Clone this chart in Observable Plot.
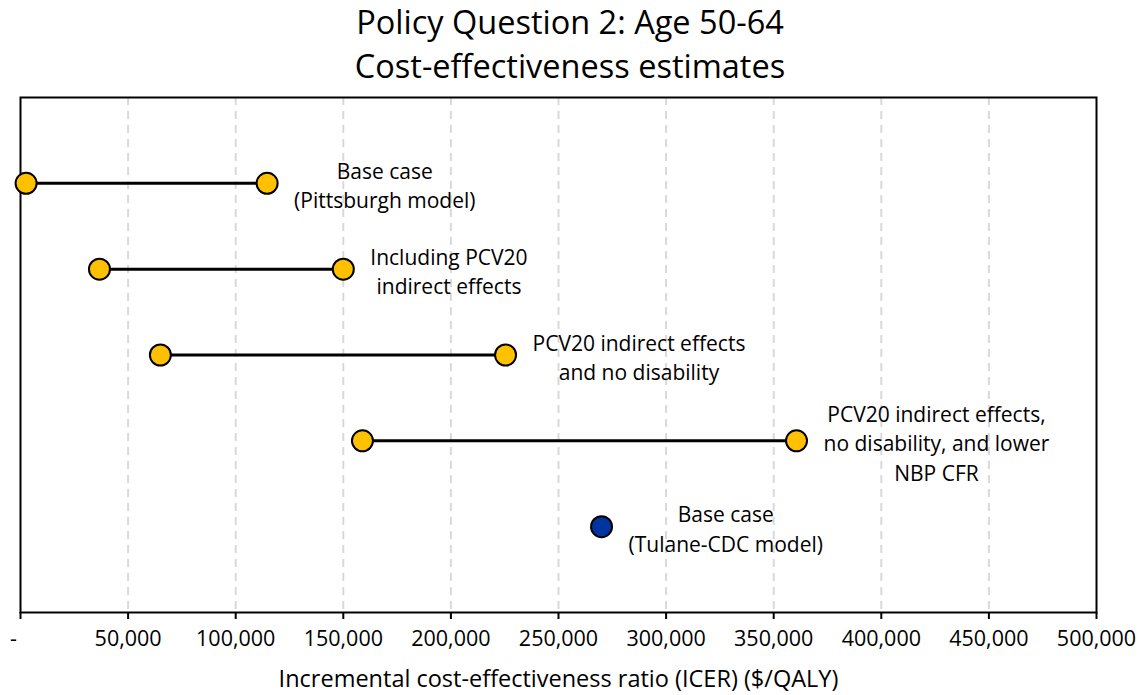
<!DOCTYPE html>
<html>
<head>
<meta charset="utf-8">
<script src="https://cdn.jsdelivr.net/npm/d3@7"></script>
<script src="https://cdn.jsdelivr.net/npm/@observablehq/plot@0.6"></script>
<style>
  html, body { margin: 0; padding: 0; background: #fff; }
  #wrap { width: 1140px; font-family: "Open Sans", sans-serif; color: #000; }
  #title { height: 90px; padding-top: 0px; box-sizing: border-box; text-align: center; font-size: 32.5px; line-height: 44px; }
</style>
</head>
<body>
<div id="wrap">
  <div id="title">Policy Question 2: Age 50-64<br>Cost-effectiveness estimates</div>
  <div id="chart"></div>
</div>
<script>
// Scenario labels (Pittsburgh model ranges)
const categories = [
  "Base case\n(Pittsburgh model)",
  "Including PCV20\nindirect effects",
  "PCV20 indirect effects\nand no disability",
  "PCV20 indirect effects,\nno disability, and lower\nNBP CFR"
];
const lowValues  = [2600, 36700, 65000, 158900];
const highValues = [114600, 150000, 225400, 360600];

// Tulane-CDC point estimate
const tulaneLabel = "Base case\n(Tulane-CDC model)";
const tulaneValue = 270000;

const xTicks = [0, 50000, 100000, 150000, 200000, 250000, 300000, 350000, 400000, 450000, 500000];
const xLabel = "Incremental cost-effectiveness ratio (ICER) ($/QALY)";

const ranges = categories.map((c, i) => ({label: c, lo: lowValues[i], hi: highValues[i], row: i + 1}));
const tulane = [{label: tulaneLabel, value: tulaneValue, row: categories.length + 1}];

const FONT = "Open Sans";
const FS = 21;
const ctx = document.createElement("canvas").getContext("2d");
ctx.font = `${FS}px "${FONT}"`;
const blockWidth = s => Math.max(...s.split("\n").map(l => ctx.measureText(l).width));

const fmt = d3.format(",");
const labelOpts = {textAnchor: "middle", lineAnchor: "middle", lineHeight: 1.4, dy: 1, fill: "black", fontSize: FS};
const labelMarks = [
  ...ranges.map(d => Plot.text([d], {x: "hi", y: "row", text: "label", dx: 27 + blockWidth(d.label) / 2, ...labelOpts})),
  ...tulane.map(d => Plot.text([d], {x: "value", y: "row", text: "label", dx: 27 + blockWidth(d.label) / 2, ...labelOpts}))
];

const chart = Plot.plot({
  width: 1140,
  height: 605,
  marginTop: 7,
  marginBottom: 83,
  marginLeft: 20,
  marginRight: 44,
  style: {fontFamily: FONT, fontSize: FS + "px", color: "black", background: "white"},
  x: {domain: [0, 500000]},
  y: {domain: [0, categories.length + 2], reverse: true, axis: null},
  marks: [
    Plot.gridX(xTicks.slice(1, -1), {stroke: "#d9d9d9", strokeOpacity: 1, strokeWidth: 2, strokeDasharray: "8,6"}),
    Plot.axisX(xTicks, {tickFormat: d => d === 0 ? "" : fmt(d), tickSize: 7, tickPadding: 11, stroke: "black", strokeWidth: 2,
      fontSize: 21.5, label: null}),
    Plot.axisX([0], {tickFormat: () => "-", tickSize: 0, tickPadding: 18, stroke: "none",
      fontSize: 21.5, dx: -7, label: null}),
    Plot.axisX([], {label: xLabel, labelAnchor: "center", labelArrow: "none", labelOffset: 74, fontSize: 23.5, tickSize: 0}),
    Plot.frame({stroke: "black", strokeWidth: 2}),
    Plot.link(ranges, {x1: "lo", x2: "hi", y1: "row", y2: "row", stroke: "black", strokeWidth: 3}),
    Plot.dot(ranges, {x: "lo", y: "row", r: 10.5, fill: "#FFC000", stroke: "black", strokeWidth: 2}),
    Plot.dot(ranges, {x: "hi", y: "row", r: 10.5, fill: "#FFC000", stroke: "black", strokeWidth: 2}),
    Plot.dot(tulane, {x: "value", y: "row", r: 10.5, fill: "#0034A0", stroke: "black", strokeWidth: 2}),
    ...labelMarks
  ]
});
document.getElementById("chart").appendChild(chart);
</script>
</body>
</html>
